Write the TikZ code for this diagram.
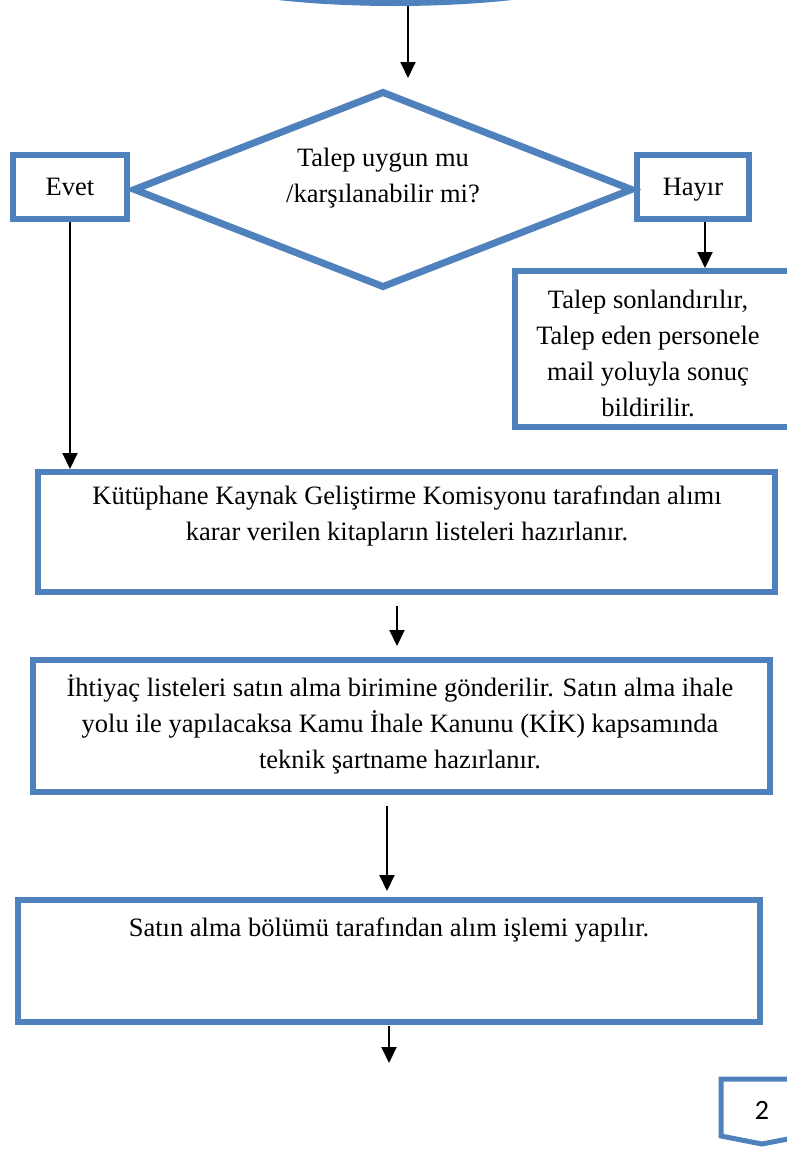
\documentclass[tikz,border=0pt]{standalone}
\usepackage{fontspec}
\setmainfont{Liberation Serif}
\newfontfamily\carlito{Carlito}
\usetikzlibrary{shapes.geometric,arrows.meta}
\definecolor{wblue}{RGB}{79,129,189}
\begin{document}
\begin{tikzpicture}[x=1pt,y=-1pt,
 box/.style={draw=wblue,line width=6pt,rectangle,inner sep=0pt},
 lbl/.style={align=center,font=\fontsize{26.5}{36}\selectfont,inner sep=0pt},
 short/.style={text height=17pt,text depth=0pt},
 arr/.style={draw=black,line width=2pt,-{Triangle[length=16pt,width=15pt]}}]
\clip (0,0) rectangle (787,1149);
% start ellipse (cut by page top)
\node[ellipse,draw=wblue,line width=6pt,minimum width=492pt,minimum height=100pt] (start) at (395,-47) {};
% decision
\node[diamond,draw=wblue,line width=7pt,minimum width=500pt,minimum height=197pt,inner sep=0pt] (dec) at (383,189.5) {};
\node[lbl] (dect) at (383,178) {Talep uygun mu\\/karşılanabilir mi?};
\node[box,lbl,short,minimum width=114pt,minimum height=64pt] (evet) at (70,187) {Evet};
\node[box,lbl,short,minimum width=112pt,minimum height=64pt] (hayir) at (693,187) {Hayır};
% right box
\node[box,minimum width=280pt,minimum height=156pt] (rbox) at (655,349) {};
\node[lbl] (rboxt) at (648,353) {Talep sonlandırılır,\\Talep eden personele\\mail yoluyla sonuç\\bildirilir.};
% main boxes
\node[box,minimum width=737pt,minimum height=120pt] (b1) at (406.5,532) {};
\node[lbl] (b1t) at (407,516) {Kütüphane Kaynak Geliştirme Komisyonu tarafından alımı\\karar verilen kitapların listeleri hazırlanır.};
\node[box,minimum width=737pt,minimum height=132pt] (b2) at (401.5,726) {};
\node[lbl] (b2t) at (400,724) {İhtiyaç listeleri satın alma birimine gönderilir. Satın alma ihale\\yolu ile yapılacaksa Kamu İhale Kanunu (KİK) kapsamında\\teknik şartname hazırlanır.};
\node[box,minimum width=742pt,minimum height=122pt] (b3) at (389,961) {};
\node[lbl] (b3t) at (389,930) {Satın alma bölümü tarafından alım işlemi yapılır.};
% connectors
\coordinate (a0s) at (408,6);
\coordinate (a0e) at (408,78);
\draw[arr] (a0s) -- (a0e);
\draw[arr] (evet.south) -- (evet.south |- b1.north);
\draw[arr] ([xshift=12pt]hayir.south) -- ([xshift=12pt]hayir.south |- rbox.north);
\coordinate (a1s) at (397,606);
\coordinate (a1e) at (397,646);
\draw[arr] (a1s) -- (a1e);
\coordinate (a2s) at (387,806);
\coordinate (a2e) at (387,891);
\draw[arr] (a2s) -- (a2e);
\coordinate (a3s) at (389,1026);
\coordinate (a3e) at (389,1063);
\draw[arr] (a3s) -- (a3e);
% page number marker
\draw[wblue,line width=5pt] (721,1079) -- (721,1136) -- (762,1144) -- (803,1136) -- (803,1079) -- cycle;
\node[font=\carlito\fontsize{28}{30}\selectfont,inner sep=0pt] (pg) at (762,1110) {2};
\end{tikzpicture}
\end{document}
